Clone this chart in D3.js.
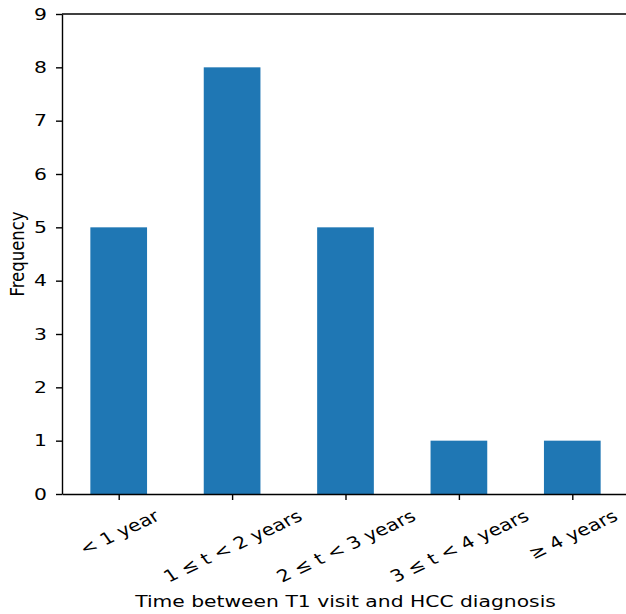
<!DOCTYPE html>
<html>
<head>
<meta charset="utf-8">
<script src="https://cdn.jsdelivr.net/npm/d3@7"></script>
<style>
  body { margin: 0; background: #fff; }
  text { font-family: "DejaVu Sans", sans-serif; fill: #000; }
</style>
</head>
<body>
<div id="chart"></div>
<script>
const categories = ["< 1 year", "1 \u2264 t < 2 years", "2 \u2264 t < 3 years", "3 \u2264 t < 4 years", "\u2265 4 years"];
const frequencies = [5, 8, 5, 1, 1];
const yTicks = [0, 1, 2, 3, 4, 5, 6, 7, 8, 9];

const width = 626;
const height = 614;
const margin = { top: 14, right: -3, bottom: 120, left: 62 };
const fontSize = 16.5;
// the reference picture is stretched sideways, so text is widened too
const sx = 1.23;

const svg = d3.select("#chart")
  .append("svg")
  .attr("width", width)
  .attr("height", height);

// pandas-style bar plot: xlim [-0.5, n - 0.5], bar width 0.5
const x = d3.scaleLinear()
  .domain([-0.5, categories.length - 0.5])
  .range([margin.left, width - margin.right]);

const y = d3.scaleLinear()
  .domain([0, 9])
  .range([height - margin.bottom, margin.top]);

svg.append("g")
  .selectAll("rect")
  .data(frequencies)
  .join("rect")
  .attr("x", (d, i) => x(i - 0.25))
  .attr("width", (d, i) => x(i + 0.25) - x(i - 0.25))
  .attr("y", (d) => y(d))
  .attr("height", (d) => y(0) - y(d))
  .attr("fill", "#1f77b4");

// y axis
const yAxisG = svg.append("g")
  .attr("transform", `translate(${margin.left},0)`)
  .call(d3.axisLeft(y).tickValues(yTicks).tickFormat(d3.format("d")).tickSize(6).tickSizeOuter(0));
yAxisG.selectAll("text")
  .style("font-size", fontSize + "px")
  .attr("font-family", "DejaVu Sans")
  .attr("x", -15 / sx)
  .attr("transform", `scale(${sx},1)`);

// x axis
const xAxisG = svg.append("g")
  .attr("transform", `translate(0,${y(0)})`)
  .call(d3.axisBottom(x).tickValues(d3.range(categories.length)).tickFormat((i) => categories[i]).tickSize(6).tickSizeOuter(0));

xAxisG.selectAll("text")
  .style("font-size", fontSize + "px")
  .attr("font-family", "DejaVu Sans")
  .attr("dy", null)
  .attr("y", null)
  .attr("text-anchor", "middle")
  .attr("dominant-baseline", "central")
  .attr("transform", function () {
    const w = this.getComputedTextLength();
    const h = fontSize * 1.17;
    const bboxH = w * 0.5 + h * 0.866;
    return `translate(0,${6 + 6 + bboxH / 2}) scale(${sx},1) rotate(-30)`;
  });

svg.selectAll(".domain, .tick line")
  .attr("stroke", "#000")
  .attr("stroke-width", 1.4);

// top spine
svg.append("line")
  .attr("x1", margin.left)
  .attr("x2", width - margin.right)
  .attr("y1", y(9))
  .attr("y2", y(9))
  .attr("stroke", "#000")
  .attr("stroke-width", 1.4);

// right spine
svg.append("line")
  .attr("x1", width - margin.right)
  .attr("x2", width - margin.right)
  .attr("y1", y(9))
  .attr("y2", y(0))
  .attr("stroke", "#000")
  .attr("stroke-width", 1.4);

svg.append("text")
  .attr("transform", `translate(${(x.range()[0] + x.range()[1]) / 2},607) scale(${sx},1)`)
  .attr("text-anchor", "middle")
  .style("font-size", fontSize + "px")
  .text("Time between T1 visit and HCC diagnosis");

svg.append("text")
  .attr("transform", `translate(24,${(y(0) + y(9)) / 2}) scale(${sx},1) rotate(-90)`)
  .attr("text-anchor", "middle")
  .style("font-size", fontSize + "px")
  .text("Frequency");
</script>
</body>
</html>
